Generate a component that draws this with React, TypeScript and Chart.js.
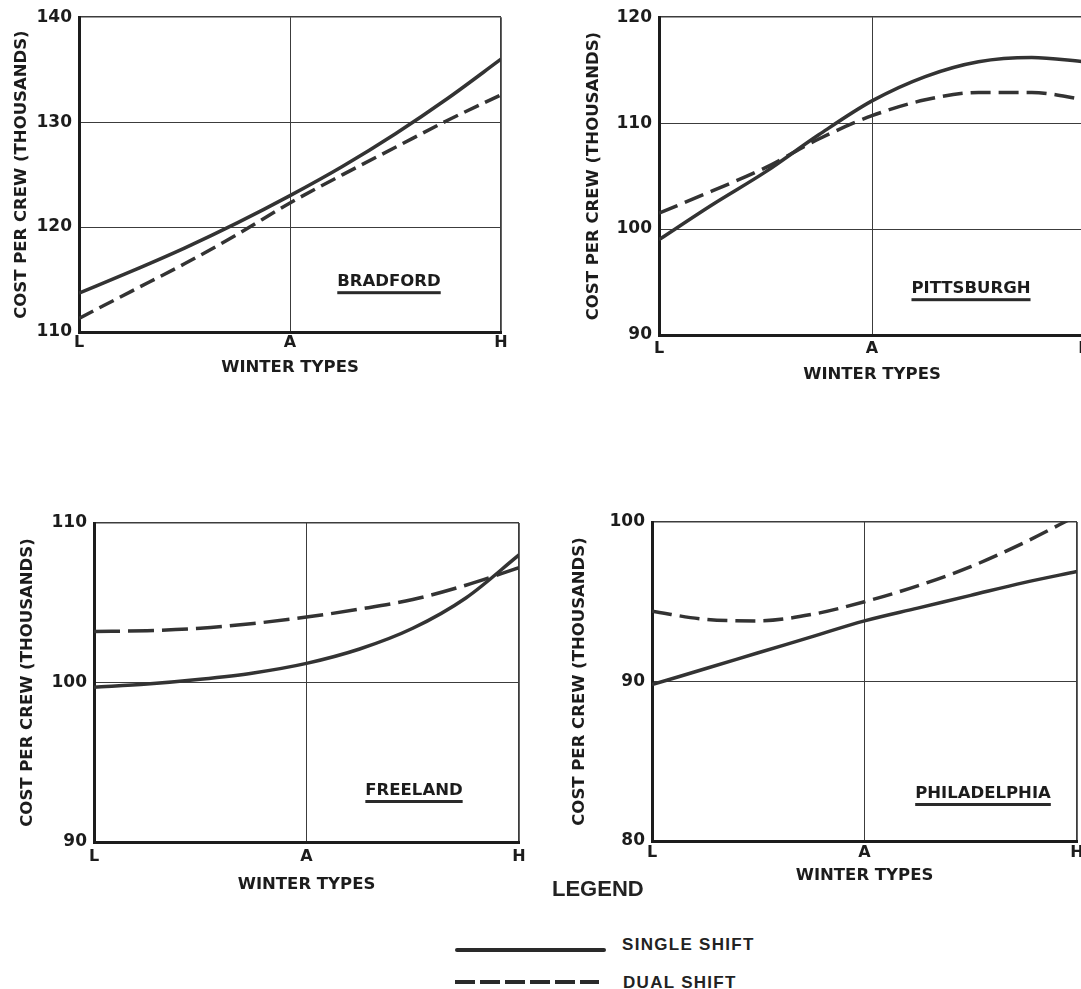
import React, { useEffect, useRef } from 'react';
import { Chart, registerables } from 'chart.js';

Chart.register(...registerables);

// ---- data ----
const WINTER_POSITIONS = [0, 0.25, 0.5, 0.75, 1, 1.25, 1.5, 1.75, 2];
const WINTER_TICKS = ['L', 'A', 'H'];

const BRADFORD_SINGLE = [113.7, 115.8, 118.0, 120.4, 123.0, 125.8, 128.9, 132.3, 136.0];
const BRADFORD_DUAL = [111.3, 113.9, 116.5, 119.3, 122.3, 125.0, 127.6, 130.2, 132.6];
const BRADFORD_Y_TICKS = [110, 120, 130, 140];

const PITTSBURGH_SINGLE = [99.0, 102.3, 105.4, 108.9, 112.1, 114.4, 115.8, 116.2, 115.8];
const PITTSBURGH_DUAL = [101.5, 103.6, 105.8, 108.5, 110.7, 112.2, 112.9, 112.9, 112.2];
const PITTSBURGH_Y_TICKS = [90, 100, 110, 120];

const FREELAND_SINGLE = [99.7, 99.9, 100.2, 100.6, 101.2, 102.1, 103.4, 105.3, 108.0];
const FREELAND_DUAL = [103.2, 103.25, 103.4, 103.7, 104.1, 104.6, 105.2, 106.1, 107.2];
const FREELAND_Y_TICKS = [90, 100, 110];

const PHILADELPHIA_SINGLE = [89.8, 90.8, 91.8, 92.8, 93.8, 94.6, 95.4, 96.2, 96.9];
const PHILADELPHIA_DUAL = [94.4, 93.9, 93.8, 94.2, 95.0, 96.0, 97.2, 98.7, 100.4];
const PHILADELPHIA_Y_TICKS = [80, 90, 100];

const Y_TITLE = 'COST PER CREW (THOUSANDS)';
const X_TITLE = 'WINTER TYPES';
const SERIES_NAMES = ['SINGLE SHIFT', 'DUAL SHIFT'];

// ---- layout / style (not data) ----
type PanelCfg = {
  name: string;
  single: number[];
  dual: number[];
  yTicks: number[];
  canvas: { left: number; top: number; w: number; h: number };
  padTop: number;
  padRight: number;
  yWidth: number;
  xHeight: number;
  xTitlePad: number;
  yTitlePad: number;
  xTickPad: number;
  dash: number[];
  label: { dx: number; dy: number };
};

const PANELS: PanelCfg[] = [
  {
    name: 'BRADFORD', single: BRADFORD_SINGLE, dual: BRADFORD_DUAL, yTicks: BRADFORD_Y_TICKS,
    canvas: { left: 0, top: 0, w: 540, h: 400 }, padTop: 15, padRight: 39, yWidth: 79, xHeight: 68,
    xTitlePad: 22, yTitlePad: 12, xTickPad: 1.4, dash: [16, 7], label: { dx: 310, dy: 265 },
  },
  {
    name: 'PITTSBURGH', single: PITTSBURGH_SINGLE, dual: PITTSBURGH_DUAL, yTicks: PITTSBURGH_Y_TICKS,
    canvas: { left: 580, top: 0, w: 540, h: 400 }, padTop: 16, padRight: 35, yWidth: 79, xHeight: 65,
    xTitlePad: 15, yTitlePad: 4, xTickPad: 4.4, dash: [20, 8], label: { dx: 312, dy: 272 },
  },
  {
    name: 'FREELAND', single: FREELAND_SINGLE, dual: FREELAND_DUAL, yTicks: FREELAND_Y_TICKS,
    canvas: { left: 0, top: 500, w: 560, h: 420 }, padTop: 23, padRight: 41, yWidth: 94, xHeight: 78,
    xTitlePad: 25, yTitlePad: 17.6, xTickPad: 5.4, dash: [26, 8], label: { dx: 320, dy: 268 },
  },
  {
    name: 'PHILADELPHIA', single: PHILADELPHIA_SINGLE, dual: PHILADELPHIA_DUAL, yTicks: PHILADELPHIA_Y_TICKS,
    canvas: { left: 560, top: 500, w: 540, h: 420 }, padTop: 22, padRight: 23, yWidth: 92, xHeight: 79,
    xTitlePad: 34, yTitlePad: 10, xTickPad: 2.4, dash: [20, 8], label: { dx: 331, dy: 272 },
  },
];

const INK = '#1c1c1c';
const LINE = '#333333';
const GRID = '#3c3c3c';
const FONT = '"DejaVu Sans", "Liberation Sans", sans-serif';

const panelLabelPlugin = {
  id: 'panelLabel',
  afterDraw(chart: any, _args: any, opts: any) {
    const { ctx, chartArea } = chart;
    if (!opts || !opts.text) return;
    ctx.save();
    ctx.font = `bold 16.5px ${FONT}`;
    ctx.fillStyle = INK;
    ctx.textAlign = 'center';
    ctx.textBaseline = 'middle';
    const cx = chartArea.left + opts.dx;
    const cy = chartArea.top + opts.dy;
    ctx.fillText(opts.text, cx, cy);
    const w = ctx.measureText(opts.text).width;
    ctx.fillStyle = '#2a2a2a';
    ctx.fillRect(cx - w / 2, cy + 9, w, 3);
    ctx.restore();
  },
};

function Panel({ cfg }: { cfg: PanelCfg }) {
  const ref = useRef<HTMLCanvasElement | null>(null);
  useEffect(() => {
    if (!ref.current) return;
    const yMin = cfg.yTicks[0];
    const yMax = cfg.yTicks[cfg.yTicks.length - 1];
    const toPts = (arr: number[]) => arr.map((y, i) => ({ x: WINTER_POSITIONS[i], y }));
    const chart = new Chart(ref.current, {
      type: 'line',
      data: {
        datasets: [
          {
            label: SERIES_NAMES[0],
            data: toPts(cfg.single),
            borderColor: LINE,
            borderWidth: 3.5,
            pointRadius: 0,
            cubicInterpolationMode: 'monotone',
            fill: false,
          },
          {
            label: SERIES_NAMES[1],
            data: toPts(cfg.dual),
            borderColor: LINE,
            borderWidth: 3.5,
            borderDash: cfg.dash,
            pointRadius: 0,
            cubicInterpolationMode: 'monotone',
            fill: false,
          },
        ],
      },
      options: {
        animation: false,
        responsive: false,
        events: [],
        layout: { padding: { left: 0, top: cfg.padTop, right: cfg.padRight, bottom: 0 } },
        plugins: {
          legend: { display: false },
          tooltip: { enabled: false },
          panelLabel: { text: cfg.name, dx: cfg.label.dx, dy: cfg.label.dy },
        } as any,
        scales: {
          x: {
            type: 'linear',
            min: 0,
            max: WINTER_TICKS.length - 1,
            afterFit: (s: any) => { s.height = cfg.xHeight; },
            ticks: {
              stepSize: 1,
              padding: cfg.xTickPad,
              color: INK,
              font: { family: FONT, weight: 'bold', size: 16 },
              callback: (v: any) => WINTER_TICKS[Math.round(Number(v))] ?? '',
              maxRotation: 0,
            },
            grid: {
              drawTicks: false,
              color: GRID,
              lineWidth: (c: any) => (c.index === WINTER_TICKS.length - 1 ? 1.8 : 1),
            },
            border: { display: true, width: 3, color: INK },
            title: {
              display: true,
              text: X_TITLE,
              color: INK,
              font: { family: FONT, weight: 'bold', size: 16.5 },
              padding: { top: 0, bottom: cfg.xTitlePad },
            },
          },
          y: {
            type: 'linear',
            min: yMin,
            max: yMax,
            afterFit: (s: any) => { s.width = cfg.yWidth; },
            ticks: {
              stepSize: cfg.yTicks[1] - cfg.yTicks[0],
              padding: 7,
              color: INK,
              font: { family: FONT, weight: 'bold', size: 17 },
            },
            grid: {
              drawTicks: false,
              color: GRID,
              lineWidth: (c: any) => (c.index === cfg.yTicks.length - 1 ? 1.6 : 1),
            },
            border: { display: true, width: 3, color: INK },
            title: {
              display: true,
              text: Y_TITLE,
              color: INK,
              font: { family: FONT, weight: 'bold', size: 16.5 },
              padding: { top: cfg.yTitlePad, bottom: 0 },
            },
          },
        },
      } as any,
      plugins: [panelLabelPlugin as any],
    });
    return () => chart.destroy();
  }, [cfg]);
  return (
    <canvas
      ref={ref}
      width={cfg.canvas.w}
      height={cfg.canvas.h}
      style={{
        position: 'absolute',
        left: cfg.canvas.left,
        top: cfg.canvas.top,
        width: cfg.canvas.w,
        height: cfg.canvas.h,
      }}
    />
  );
}

export default function App() {
  const legendText: React.CSSProperties = {
    position: 'absolute',
    fontFamily: '"Liberation Sans", Arial, sans-serif',
    fontWeight: 'bold',
    color: '#222',
    whiteSpace: 'nowrap',
  };
  return (
    <div
      style={{
        position: 'fixed',
        left: 0,
        top: 0,
        width: 1081,
        height: 989,
        overflow: 'hidden',
        background: '#ffffff',
      }}
    >
      {PANELS.map((p) => (
        <Panel key={p.name} cfg={p} />
      ))}
      <div style={{ ...legendText, left: 552, top: 875.6, fontSize: 22, lineHeight: '26px' }}>LEGEND</div>
      <div
        style={{
          position: 'absolute',
          left: 455,
          top: 948,
          width: 151,
          height: 4,
          background: '#2a2a2a',
          borderRadius: 2,
        }}
      />
      <div
        style={{ ...legendText, left: 622, top: 934.5, fontSize: 17, lineHeight: '20px', letterSpacing: '1.3px' }}
      >
        {SERIES_NAMES[0]}
      </div>
      <div
        style={{
          position: 'absolute',
          left: 455,
          top: 980,
          width: 144,
          height: 4,
          background: 'repeating-linear-gradient(to right, #2a2a2a 0 20px, transparent 20px 25px)',
        }}
      />
      <div
        style={{ ...legendText, left: 623, top: 972.5, fontSize: 17, lineHeight: '20px', letterSpacing: '1.3px' }}
      >
        {SERIES_NAMES[1]}
      </div>
    </div>
  );
}
